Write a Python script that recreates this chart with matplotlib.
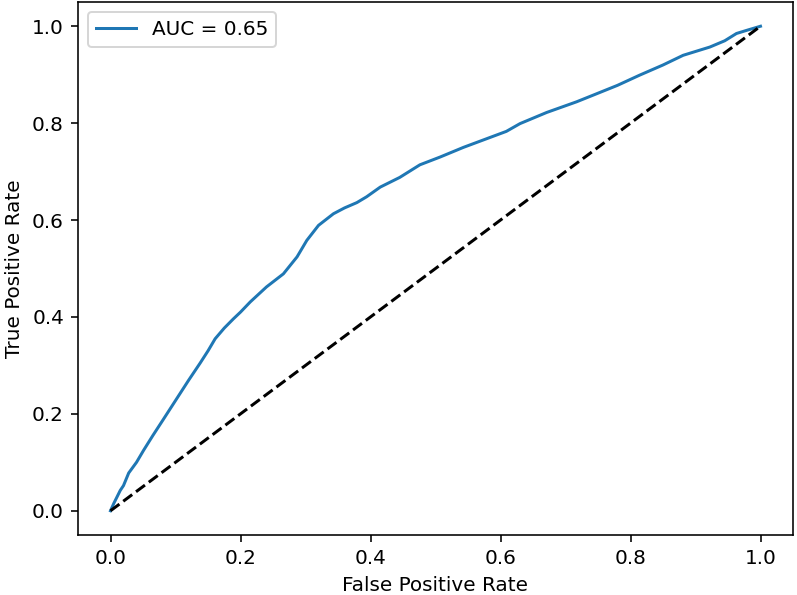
import matplotlib
matplotlib.use("Agg")
import matplotlib.pyplot as plt

fpr = [0.0, 0.005, 0.015, 0.020, 0.028, 0.040, 0.051, 0.065, 0.081, 0.094, 0.107,
       0.120, 0.138, 0.150, 0.161, 0.175, 0.189, 0.200, 0.215, 0.240, 0.266, 0.287,
       0.302, 0.320, 0.343, 0.360, 0.379, 0.394, 0.415, 0.445, 0.476, 0.507, 0.543,
       0.579, 0.609, 0.630, 0.671, 0.717, 0.743, 0.780, 0.814, 0.850, 0.881, 0.922,
       0.945, 0.963, 0.980, 1.0]
tpr = [0.0, 0.015, 0.042, 0.052, 0.078, 0.100, 0.125, 0.155, 0.188, 0.215, 0.242,
       0.269, 0.305, 0.330, 0.355, 0.377, 0.396, 0.410, 0.431, 0.462, 0.489, 0.524,
       0.558, 0.589, 0.613, 0.625, 0.636, 0.648, 0.668, 0.688, 0.714, 0.730, 0.750,
       0.768, 0.783, 0.799, 0.822, 0.844, 0.858, 0.878, 0.899, 0.920, 0.940, 0.957,
       0.970, 0.985, 0.992, 1.0]
auc_label = "AUC = 0.65"
diag = [0, 1]

dpi = 144.2
fig = plt.figure(figsize=(797 / dpi, 595 / dpi), dpi=dpi)
ax = fig.add_axes([78 / 797, 1 - 535 / 595, (793 - 78) / 797, (535 - 2) / 595])
ax.plot(fpr, tpr, label=auc_label)
ax.plot(diag, diag, 'k--')
ax.set_xlabel("False Positive Rate")
ax.set_ylabel("True Positive Rate")
ax.legend(loc="upper left")
fig.savefig("out.png", dpi=dpi)
